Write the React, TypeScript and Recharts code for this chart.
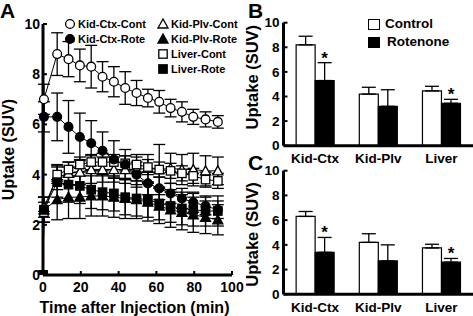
import { LineChart, Line, XAxis, YAxis, ErrorBar, BarChart, Bar, LabelList } from 'recharts';

const FONT = '"Liberation Sans", Arial, Helvetica, sans-serif';

// Panel A: time activity curves (SUV)
const times = [0, 0.5, 7.5, 13.5, 19.5, 25.5, 31.5, 37.5, 43.5, 49.5, 55.5, 61.5, 67.5, 73.5, 79.5, 86, 92.5];
const kidCtxCont = [0, 7.0, 8.8, 8.6, 8.35, 8.3, 7.9, 7.7, 7.45, 7.25, 7.05, 6.9, 6.65, 6.5, 6.3, 6.2, 6.1];
const kidCtxContErr = [0, 0.6, 0.85, 0.7, 0.65, 0.85, 0.6, 0.6, 0.65, 0.5, 0.35, 0.45, 0.35, 0.4, 0.3, 0.3, 0.25];
const kidCtxRote = [0, 6.3, 6.3, 5.9, 5.5, 5.25, 4.95, 4.6, 4.4, 4.0, 3.65, 3.45, 3.25, 3.05, 2.9, 2.75, 2.6];
const kidCtxRoteErr = [0, 0.6, 0.95, 1.05, 0.95, 0.9, 0.75, 0.75, 0.6, 0.5, 0.45, 0.45, 0.4, 0.4, 0.4, 0.35, 0.35];
const kidPlvCont = [0, 2.7, 3.9, 4.05, 4.1, 4.2, 4.2, 4.2, 4.2, 4.2, 4.25, 4.2, 4.25, 4.2, 4.2, 4.15, 4.15];
const kidPlvContErr = [0, 0.4, 0.5, 0.45, 0.5, 0.55, 0.5, 0.5, 0.55, 0.6, 0.55, 1.0, 0.6, 0.6, 0.65, 0.6, 0.55];
const kidPlvRote = [0, 2.6, 3.0, 3.1, 3.1, 3.15, 3.15, 3.1, 3.05, 3.0, 2.9, 2.75, 2.6, 2.5, 2.4, 2.3, 2.2];
const kidPlvRoteErr = [0, 0.5, 0.8, 0.85, 0.85, 0.8, 0.8, 0.8, 0.8, 0.75, 0.75, 0.7, 0.7, 0.7, 0.7, 0.65, 0.6];
const liverCont = [0, 2.5, 4.0, 4.2, 4.4, 4.5, 4.5, 4.5, 4.45, 4.4, 4.3, 4.2, 4.15, 4.05, 3.95, 3.8, 3.75];
const liverContErr = [0, 0.4, 0.35, 0.3, 0.3, 0.3, 0.35, 0.3, 0.3, 0.3, 0.3, 0.3, 0.3, 0.3, 0.3, 0.3, 0.3];
const liverRote = [0, 2.6, 3.7, 3.6, 3.55, 3.4, 3.3, 3.25, 3.1, 3.05, 3.0, 2.85, 2.75, 2.65, 2.6, 2.55, 2.55];
const liverRoteErr = [0, 0.5, 0.6, 0.7, 0.7, 0.75, 0.7, 0.7, 0.7, 0.7, 0.7, 0.65, 0.65, 0.65, 0.65, 0.6, 0.6];

const xTicks = [0, 20, 40, 60, 80, 100];
const yTicks = [0, 2, 4, 6, 8, 10];

// Panels B and C: organ uptake, control vs rotenone
const organs = ['Kid-Ctx', 'Kid-Plv', 'Liver'];
const significant = [true, false, true];
const controlB = [8.2, 4.2, 4.45];
const controlBErr = [0.7, 0.55, 0.38];
const rotenoneB = [5.3, 3.2, 3.45];
const rotenoneBErr = [1.45, 1.35, 0.32];
const controlC = [6.3, 4.2, 3.75];
const controlCErr = [0.4, 0.7, 0.3];
const rotenoneC = [3.4, 2.7, 2.6];
const rotenoneCErr = [1.2, 1.3, 0.3];

const timeData = times.map((t, i) => ({
  t,
  kcc: kidCtxCont[i], kccErr: kidCtxContErr[i],
  kcr: kidCtxRote[i], kcrErr: kidCtxRoteErr[i],
  kpc: kidPlvCont[i], kpcErr: kidPlvContErr[i],
  kpr: kidPlvRote[i], kprErr: kidPlvRoteErr[i],
  lc: liverCont[i], lcErr: liverContErr[i],
  lr: liverRote[i], lrErr: liverRoteErr[i],
}));

const makeBarData = (ctl: number[], ctlErr: number[], rot: number[], rotErr: number[]) =>
  organs.map((cat, i) => ({
    cat,
    control: ctl[i],
    controlErr: [0, ctlErr[i]],
    rotenone: rot[i],
    rotenoneErr: [0, rotErr[i]],
    err: rotErr[i],
    sig: significant[i],
  }));

const barDataB = makeBarData(controlB, controlBErr, rotenoneB, rotenoneBErr);
const barDataC = makeBarData(controlC, controlCErr, rotenoneC, rotenoneCErr);

type Shape = 'circle' | 'square' | 'triangle';

function Marker({ cx, cy, shape, filled }: { cx: number; cy: number; shape: Shape; filled: boolean }) {
  const fill = filled ? '#000' : '#fff';
  if (shape === 'circle') return <circle cx={cx} cy={cy} r={4.4} fill={fill} stroke="#000" strokeWidth={1.3} />;
  if (shape === 'square') return <rect x={cx - 4.2} y={cy - 4.2} width={8.4} height={8.4} fill={fill} stroke="#000" strokeWidth={1.3} />;
  return <polygon points={`${cx},${cy - 5} ${cx - 5},${cy + 4} ${cx + 5},${cy + 4}`} fill={fill} stroke="#000" strokeWidth={1.3} strokeLinejoin="miter" />;
}

const dotOf = (shape: Shape, filled: boolean) => (props: any) => {
  const { cx, cy, index } = props;
  if (cx == null || cy == null) return <g key={`${shape}-${filled}-${index}`} />;
  return (
    <g key={`${shape}-${filled}-${index}`}>
      <Marker cx={cx} cy={cy} shape={shape} filled={filled} />
    </g>
  );
};

const tickStyle = { fill: '#000', fontSize: 14, fontWeight: 'bold', fontFamily: FONT };
const axisLine = { stroke: '#000', strokeWidth: 3 };
const tickLine = { stroke: '#000', strokeWidth: 2 };

const series: { key: string; shape: Shape; filled: boolean }[] = [
  { key: 'kpc', shape: 'triangle', filled: false },
  { key: 'lc', shape: 'square', filled: false },
  { key: 'kcc', shape: 'circle', filled: false },
  { key: 'kpr', shape: 'triangle', filled: true },
  { key: 'kcr', shape: 'circle', filled: true },
  { key: 'lr', shape: 'square', filled: true },
];

function LegendMark({ x, y, shape, filled, label }: { x: number; y: number; shape: Shape; filled: boolean; label: string }) {
  return (
    <>
      <svg style={{ position: 'absolute', left: x - 6, top: y - 6 }} width={12} height={12}>
        <Marker cx={6} cy={6} shape={shape} filled={filled} />
      </svg>
      <div style={{ position: 'absolute', left: x + 8, top: y - 7, lineHeight: '14px', fontSize: 11, fontWeight: 'bold', whiteSpace: 'nowrap' }}>
        {label}
      </div>
    </>
  );
}

function BarLegend({ y, filled, label, left }: { y: number; filled: boolean; label: string; left: number }) {
  return (
    <>
      <div style={{ position: 'absolute', left: 368, top: y - 5.5, width: 9.6, height: 9.6, background: filled ? '#000' : '#fff', border: '1.2px solid #000' }} />
      <div style={{ position: 'absolute', left, top: y - 8, lineHeight: '16px', fontSize: 13.5, fontWeight: 'bold', whiteSpace: 'nowrap' }}>
        {label}
      </div>
    </>
  );
}

// asterisk above the rotenone error bar where the difference is significant
function starRenderer(data: typeof barDataB) {
  return (props: any) => {
    const { x, y, width, height, value, index } = props;
    const row = data[index];
    if (!row || !row.sig) return null;
    const errPx = (row.err * height) / value;
    return (
      <text key={`star-${index}`} x={x + width / 2} y={y - errPx + 1} textAnchor="middle" fontSize={17} fontWeight="bold" fontFamily={FONT} fill="#000">
        *
      </text>
    );
  };
}

function OrganBars({ data, top, height, marginTop, axisHeight, labelDy }: { data: typeof barDataB; top: number; height: number; marginTop: number; axisHeight: number; labelDy: number }) {
  return (
    <div style={{ position: 'absolute', left: 240, top }}>
      <BarChart width={233} height={height} data={data} margin={{ top: marginTop, right: 0, bottom: 0, left: 0 }} barCategoryGap="20%" barGap={0}>
        <XAxis dataKey="cat" height={axisHeight} tickLine={false} tickSize={0} tickMargin={8} axisLine={axisLine} tick={{ ...tickStyle, fontSize: 13.5 }} interval={0} />
        <YAxis
          width={43.5}
          domain={[0, 10]}
          ticks={yTicks}
          interval={0}
          allowDataOverflow
          tickSize={-4}
          tickMargin={8}
          axisLine={axisLine}
          tickLine={tickLine}
          tick={{ ...tickStyle, fontSize: 13.5 }}
          label={{ value: 'Uptake (SUV)', angle: -90, position: 'insideLeft', offset: 12, dy: labelDy, style: { textAnchor: 'middle', fontSize: 16.5, fontWeight: 'bold', fontFamily: FONT, fill: '#000' } }}
        />
        <Bar dataKey="control" fill="#fff" stroke="#000" strokeWidth={1.2} isAnimationActive={false}>
          <ErrorBar dataKey="controlErr" width={7} stroke="#000" strokeWidth={1.3} direction="y" />
        </Bar>
        <Bar dataKey="rotenone" fill="#000" stroke="#000" strokeWidth={1.2} isAnimationActive={false}>
          <ErrorBar dataKey="rotenoneErr" width={7} stroke="#000" strokeWidth={1.3} direction="y" />
          <LabelList dataKey="rotenone" content={starRenderer(data)} />
        </Bar>
      </BarChart>
    </div>
  );
}

export default function App() {
  return (
    <div style={{ position: 'absolute', left: 0, top: 0, width: 473, height: 316, background: '#fff', fontFamily: FONT, color: '#000', overflow: 'hidden' }}>
      <div style={{ position: 'absolute', left: 0, top: 0 }}>
        <LineChart width={252} height={316} data={timeData} margin={{ top: 24, right: 20, bottom: 0, left: 0 }}>
          <XAxis
            dataKey="t"
            type="number"
            domain={[0, 100]}
            ticks={xTicks}
            interval={0}
            height={41}
            tickSize={-4}
            tickMargin={11}
            axisLine={axisLine}
            tickLine={tickLine}
            tick={tickStyle}
            label={{ value: 'Time after Injection (min)', position: 'insideBottom', offset: 3.5, dx: -3, style: { fontSize: 16, fontWeight: 'bold', fontFamily: FONT, fill: '#000' } }}
          />
          <YAxis
            width={43}
            domain={[0, 10]}
            ticks={yTicks}
            interval={0}
            allowDataOverflow
            tickSize={-4}
            tickMargin={7}
            axisLine={axisLine}
            tickLine={tickLine}
            tick={tickStyle}
            label={{ value: 'Uptake (SUV)', angle: -90, position: 'insideLeft', offset: 8, style: { textAnchor: 'middle', fontSize: 16, fontWeight: 'bold', fontFamily: FONT, fill: '#000' } }}
          />
          {series.map((s) => (
            <Line
              key={s.key}
              dataKey={s.key}
              type="linear"
              stroke="#000"
              strokeWidth={1}
              dot={dotOf(s.shape, s.filled)}
              activeDot={false}
              isAnimationActive={false}
            >
              <ErrorBar dataKey={`${s.key}Err`} width={6} stroke="#000" strokeWidth={1.3} direction="y" />
            </Line>
          ))}
        </LineChart>
      </div>

      <OrganBars data={barDataB} top={0} height={166} marginTop={22.7} axisHeight={20.3} labelDy={-7} />
      <OrganBars data={barDataC} top={150} height={166} marginTop={20.7} axisHeight={21.7} labelDy={2} />

      <div style={{ position: 'absolute', left: 0, top: 0, fontSize: 21, fontWeight: 'bold', lineHeight: '21px' }}>A</div>
      <div style={{ position: 'absolute', left: 248, top: 0, fontSize: 21, fontWeight: 'bold', lineHeight: '21px' }}>B</div>
      <div style={{ position: 'absolute', left: 248, top: 152, fontSize: 21, fontWeight: 'bold', lineHeight: '21px' }}>C</div>

      <LegendMark x={70} y={24} shape="circle" filled={false} label="Kid-Ctx-Cont" />
      <LegendMark x={70} y={38.5} shape="circle" filled label="Kid-Ctx-Rote" />
      <LegendMark x={163} y={24} shape="triangle" filled={false} label="Kid-Plv-Cont" />
      <LegendMark x={163} y={38.5} shape="triangle" filled label="Kid-Plv-Rote" />
      <LegendMark x={163} y={53.5} shape="square" filled={false} label="Liver-Cont" />
      <LegendMark x={163} y={69} shape="square" filled label="Liver-Rote" />

      <BarLegend y={24} filled={false} label="Control" left={385} />
      <BarLegend y={42} filled label="Rotenone" left={387} />
    </div>
  );
}
